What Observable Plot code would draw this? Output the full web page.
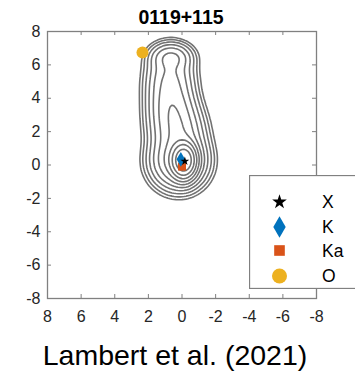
<!DOCTYPE html>
<html><head><meta charset="utf-8">
<script src="https://cdn.jsdelivr.net/npm/d3@7"></script>
<script src="https://cdn.jsdelivr.net/npm/@observablehq/plot@0.6"></script>
<style>
body{margin:0;background:#fff;}
#wrap{position:relative;width:355px;height:371px;overflow:hidden;font-family:"Liberation Sans",Arial,Helvetica,sans-serif;background:#fff;}
#chart{position:absolute;left:0;top:0;}
#title{position:absolute;left:0;width:362px;top:8px;text-align:center;font-weight:bold;font-size:19.5px;line-height:1;color:#000;}
#legend{position:absolute;left:249px;top:175px;}
#caption{position:absolute;left:0;width:350px;top:341px;text-align:center;font-size:28.5px;line-height:1;color:#000;}
</style></head>
<body><div id="wrap"><div id="chart"></div><div id="title"></div><div id="legend"></div><div id="caption"></div></div>
<script>
// ---- data ----
const titleText = "0119+115";
const captionText = "Lambert et al. (2021)";
const xTicks = [8, 6, 4, 2, 0, -2, -4, -6, -8];
const yTicks = [-8, -6, -4, -2, 0, 2, 4, 6, 8];

const bands = ["X", "K", "Ka", "O"];
const bandX = [-0.17, 0.07, 0.0, 2.35];
const bandY = [0.23, 0.34, -0.1, 6.74];
const bandColor = ["#000000", "#0072BD", "#D95319", "#EDB120"];
const bandSymbol = ["star", "diamond", "square", "circle"];

// brightness model of the source: gaussian components
// (core, halo, jet knots from y=0.8 to 6.0, northern lobe)
const compX   = [-0.1, 0.2, 0.15, 0.2, 0.25, 0.3, 0.35, 0.45, 0.55, 0.6, 0.65, 0.7, 0.72, 0.72, 0.7, 0.68, 0.65];
const compY   = [0.28, 0.2, 0.8, 1.2, 1.6, 2.0, 2.4, 2.8, 3.2, 3.6, 4.0, 4.4, 4.8, 5.2, 5.6, 6.0, 6.45];
const compAmp = [1000, 100, 10, 15.5, 18.5, 19, 19, 18.5, 18, 16, 13.5, 12, 11, 10, 9.3, 8, 30];
const compSx  = [0.35, 0.75, 0.72, 0.72, 0.72, 0.72, 0.72, 0.7, 0.68, 0.66, 0.66, 0.66, 0.66, 0.66, 0.66, 0.66, 0.6];
const compSy  = [0.5, 0.75, 0.66, 0.66, 0.66, 0.66, 0.66, 0.66, 0.66, 0.66, 0.66, 0.66, 0.66, 0.66, 0.66, 0.66, 0.42];
const levels = [1, 2, 4, 8, 16, 32, 64, 128, 256, 512];

// ---- chart ----
function brightness(x, y) {
  let s = 0;
  for (let i = 0; i < compX.length; i++) {
    const dx = (x - compX[i]) / compSx[i], dy = (y - compY[i]) / compSy[i];
    s += compAmp[i] * Math.exp(-0.5 * (dx * dx + dy * dy));
  }
  return s;
}

const markers = bands.map((b, i) => ({band: b, x: bandX[i], y: bandY[i], color: bandColor[i], symbol: bandSymbol[i]}));
const plotR = {star: 2.8, diamond: 4.5, square: 4.5, circle: 6};
const drawOrder = ["O", "Ka", "K", "X"];

const frameColor = "#808080";
const chart = Plot.plot({
  width: 355, height: 335,
  marginTop: 31, marginBottom: 37, marginLeft: 47, marginRight: 39,
  x: {domain: [-8, 8], reverse: true},
  y: {domain: [-8, 8]},
  style: {fontFamily: "'Liberation Sans', Arial, Helvetica, sans-serif", fontSize: "16px", color: "#262626", background: "transparent"},
  marks: [
    Plot.contour({value: brightness, x1: -8, x2: 8, y1: -8, y2: 8, thresholds: levels,
      stroke: "#727272", strokeWidth: 1.6, fill: "none"}),
    ...drawOrder.map(b => {
      const d = markers.filter(m => m.band === b);
      return Plot.dot(d, {x: "x", y: "y", fill: d[0].color, stroke: "none", symbol: d[0].symbol, r: plotR[d[0].symbol]});
    }),
    Plot.tickX(xTicks, {x: d => d, insetTop: 263, stroke: frameColor}),
    Plot.tickX(xTicks, {x: d => d, insetBottom: 263, stroke: frameColor}),
    Plot.tickY(yTicks, {y: d => d, insetRight: 265, stroke: frameColor}),
    Plot.tickY(yTicks, {y: d => d, insetLeft: 265, stroke: frameColor}),
    Plot.frame({stroke: frameColor, strokeWidth: 1.3}),
    Plot.axisX({ticks: xTicks, tickSize: 0, tickPadding: 12, tickFormat: d => String(d), label: null, fontSize: 16}),
    Plot.axisY({ticks: yTicks, tickSize: 0, tickPadding: 7, tickFormat: d => String(d), label: null, fontSize: 16})
  ]
});
document.getElementById("chart").appendChild(chart);
document.getElementById("title").textContent = titleText;
document.getElementById("caption").textContent = captionText;

// ---- legend ----
const lw = 120, lh = 114;
const lsvg = d3.select("#legend").append("svg").attr("width", lw).attr("height", lh);
lsvg.append("rect").attr("x", 0.5).attr("y", 0.5).attr("width", lw).attr("height", lh - 1)
  .attr("fill", "#fff").attr("stroke", frameColor).attr("stroke-width", 1.3);
const legR = {star: 4.6, diamond: 6.5, square: 6, circle: 7.5};
const symMap = {star: d3.symbolStar, diamond: d3.symbolDiamond, square: d3.symbolSquare, circle: d3.symbolCircle};
const rowY = [27, 52, 75.5, 101];
markers.forEach((m, i) => {
  const r = legR[m.symbol];
  const area = Math.PI * r * r;
  lsvg.append("path").attr("transform", `translate(30.5,${rowY[i]})`)
    .attr("d", d3.symbol(symMap[m.symbol], area)()).attr("fill", m.color);
  lsvg.append("text").attr("x", 73).attr("y", rowY[i]).attr("dy", "0.36em")
    .attr("font-size", 17.5).attr("fill", "#000").text(m.band);
});
</script></body></html>
